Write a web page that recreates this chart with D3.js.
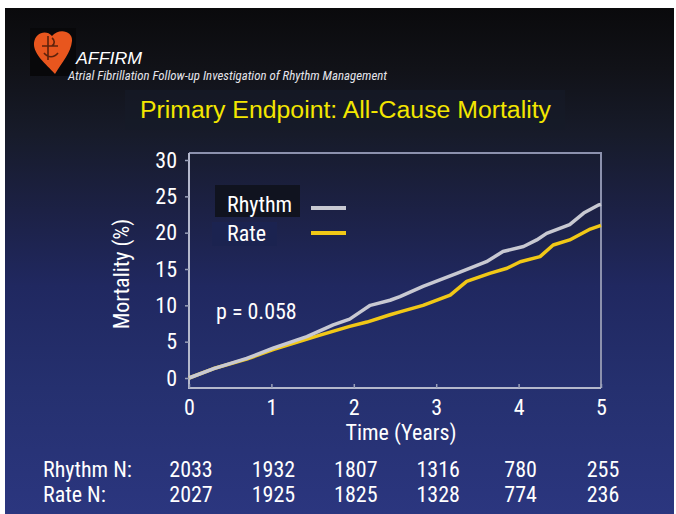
<!DOCTYPE html>
<html><head><meta charset="utf-8">
<script src="https://cdn.jsdelivr.net/npm/d3@7/dist/d3.min.js"></script>
<style>html,body{margin:0;padding:0;background:#fff;}svg{display:block;}</style>
</head><body>
<svg id="c" width="676" height="514"></svg>
<script>
// ---- data ----
const rhythmT = [0, 0.3, 0.7, 1.02, 1.43, 1.75, 1.95, 2.08, 2.2, 2.44, 2.56, 2.84, 3.25, 3.61, 3.81, 4.06, 4.22, 4.34, 4.62, 4.79, 4.97, 5.0];
const rhythmM = [0, 1.3, 2.7, 4.1, 5.7, 7.3, 8.1, 9.1, 10.0, 10.7, 11.2, 12.6, 14.4, 16.0, 17.4, 18.1, 19.0, 19.9, 21.1, 22.7, 23.8, 23.9];
const rateT = [0, 0.3, 0.7, 1.02, 1.59, 1.95, 2.16, 2.44, 2.56, 2.84, 3.17, 3.37, 3.65, 3.86, 4.02, 4.26, 4.42, 4.62, 4.87, 5.0];
const rateM = [0, 1.3, 2.6, 3.9, 5.9, 7.1, 7.7, 8.7, 9.1, 10.0, 11.4, 13.3, 14.4, 15.1, 16.0, 16.7, 18.3, 19.0, 20.5, 21.0];
const xTicks = [0, 1, 2, 3, 4, 5];
const yTicks = [0, 5, 10, 15, 20, 25, 30];
const rhythmN = [2033, 1932, 1807, 1316, 780, 255];
const rateN = [2027, 1925, 1825, 1328, 774, 236];
const seriesNames = ["Rhythm", "Rate"];

const NARROW = "'Liberation Sans Narrow','Arial Narrow','Roboto Condensed','Liberation Sans',sans-serif";
const SANS = "'Liberation Sans',Arial,sans-serif";

const svg = d3.select("#c");
const defs = svg.append("defs");
const g1 = defs.append("linearGradient").attr("id","bg").attr("x1",0).attr("y1",0).attr("x2",0).attr("y2",1);
[[0,"#0a0a0c"],[0.12,"#111218"],[0.25,"#171b2a"],[0.4,"#1c2145"],[0.55,"#202860"],[0.75,"#25306f"],[1,"#2b367f"]]
  .forEach(([o,c])=>g1.append("stop").attr("offset",o).attr("stop-color",c));
const blur = defs.append("filter").attr("id","soft").attr("filterUnits","userSpaceOnUse")
  .attr("x",0).attr("y",0).attr("width",676).attr("height",514);
blur.append("feGaussianBlur").attr("stdDeviation",0.6);

svg.append("rect").attr("width",676).attr("height",514).attr("fill","#fff");
svg.append("rect").attr("x",5).attr("y",8).attr("width",669).attr("height",506).attr("fill","url(#bg)");
// subtle panel boxes
svg.append("rect").attr("x",125).attr("y",90).attr("width",440).attr("height",40).attr("fill","#161a28").attr("opacity",0.6);

function fit(sel, w){ sel.attr("textLength", w).attr("lengthAdjust","spacingAndGlyphs"); return sel; }

// ---- logo ----
const logo = svg.append("g");
logo.append("rect").attr("x",30).attr("y",28).attr("width",46).attr("height",48).attr("fill","#08080a");
logo.append("path").attr("d","M55,74 C46,64 33,54 34,43 C35,33 46,29 52,36 C58,28 73,30 72,41 C71,53 62,62 55,74 Z").attr("fill","#e8561e");
logo.append("path").attr("d","M48,36 L48,60 M42,46 L58,46 M44,53 C48,58 54,58 58,53 M52,38 C55,40 55,44 52,46").attr("stroke","#3a1508").attr("stroke-width",1.6).attr("fill","none").attr("opacity",0.8);

svg.append("text").attr("x",76).attr("y",64).attr("fill","#fff").attr("font-family",SANS).attr("font-style","italic").attr("font-size",17).text("AFFIRM").call(fit,66);
svg.append("text").attr("x",68).attr("y",80).attr("fill","#e4e4ea").attr("font-family",NARROW).attr("font-style","italic").attr("font-size",12.5).text("Atrial Fibrillation Follow-up Investigation of Rhythm Management").call(fit,319);

// ---- title ----
svg.append("text").attr("x",140).attr("y",118).attr("fill","#f3e600").attr("font-family",SANS).attr("font-size",23).text("Primary Endpoint: All-Cause Mortality").call(fit,411);

// ---- scales ----
const x = d3.scaleLinear().domain([0,5]).range([189,601]);
const y = d3.scaleLinear().domain([0,30]).range([378,160]);

// frame
svg.append("path").attr("d",`M189,153 H601 V388`).attr("fill","none").attr("stroke","#8c91ad").attr("stroke-width",2);
svg.append("path").attr("d",`M189,153 V388 H601`).attr("fill","none").attr("stroke","#b4b8cc").attr("stroke-width",2);

// axes
const ya = svg.append("g").attr("transform","translate(189,0)")
  .call(d3.axisLeft(y).tickValues(yTicks).tickSize(4).tickPadding(8));
ya.select(".domain").remove();
ya.selectAll("line").attr("stroke","#9aa0b8").attr("stroke-width",1.5);
ya.selectAll("text").attr("fill","#fff").attr("font-family",NARROW).attr("font-size",22);

const xa = svg.append("g").attr("transform","translate(0,388)")
  .call(d3.axisBottom(x).tickValues(xTicks).tickFormat(d3.format("d")).tickSize(-4).tickPadding(0));
xa.select(".domain").remove();
xa.selectAll("line").attr("stroke","#9aa0b8").attr("stroke-width",1.5);
xa.selectAll("text").attr("fill","#fff").attr("font-family",NARROW).attr("font-size",22).attr("dy",null).attr("y",27);

svg.append("text").attr("transform","translate(129,274) rotate(-90)").attr("text-anchor","middle").attr("fill","#fff")
  .attr("font-family",NARROW).attr("font-size",22).text("Mortality (%)");
svg.append("text").attr("x",401).attr("y",440).attr("text-anchor","middle").attr("fill","#fff")
  .attr("font-family",NARROW).attr("font-size",22).text("Time (Years)");

// ---- lines ----
const line = d3.line().x(d=>x(d[0])).y(d=>y(d[1]));
const rhythmData = rhythmT.map((t,i)=>[t,rhythmM[i]]);
const rateData = rateT.map((t,i)=>[t,rateM[i]]);
svg.append("path").datum(rateData).attr("d",line).attr("fill","none").attr("stroke","#f1c818").attr("stroke-width",3.5).attr("stroke-linejoin","round").attr("filter","url(#soft)");
svg.append("path").datum(rhythmData).attr("d",line).attr("fill","none").attr("stroke","#c8c9d2").attr("stroke-width",3.5).attr("stroke-linejoin","round").attr("filter","url(#soft)");

// ---- legend ----
svg.append("rect").attr("x",215).attr("y",185).attr("width",85).attr("height",32).attr("fill","#10131f");
svg.append("rect").attr("x",212).attr("y",222).attr("width",65).attr("height",24).attr("fill","#1b2350");
const legColors = ["#c8c9d2","#f1c818"];
seriesNames.forEach((n,i)=>{
  const yy = [212,241][i];
  svg.append("text").attr("x",227).attr("y",yy).attr("fill","#fff").attr("font-family",NARROW).attr("font-size",22).text(n);
  svg.append("line").attr("x1",311).attr("x2",346).attr("y1",[208,233][i]).attr("y2",[208,233][i])
    .attr("stroke",legColors[i]).attr("stroke-width",4).attr("filter","url(#soft)");
});

svg.append("text").attr("x",216).attr("y",319).attr("fill","#fff").attr("font-family",NARROW).attr("font-size",22).text("p = 0.058");

// ---- numbers at risk ----
svg.append("text").attr("x",43).attr("y",477).attr("fill","#fff").attr("font-family",NARROW).attr("font-size",22).text("Rhythm N:");
svg.append("text").attr("x",43).attr("y",502).attr("fill","#fff").attr("font-family",NARROW).attr("font-size",22).text("Rate N:");
[[rhythmN,477],[rateN,502]].forEach(([arr,yy])=>{
  svg.selectAll(null).data(arr).enter().append("text")
    .attr("x",(d,i)=>x(xTicks[i])+2).attr("y",yy).attr("text-anchor","middle").attr("fill","#fff")
    .attr("font-family",NARROW).attr("font-size",22).text(d=>d);
});
</script>
</body></html>
